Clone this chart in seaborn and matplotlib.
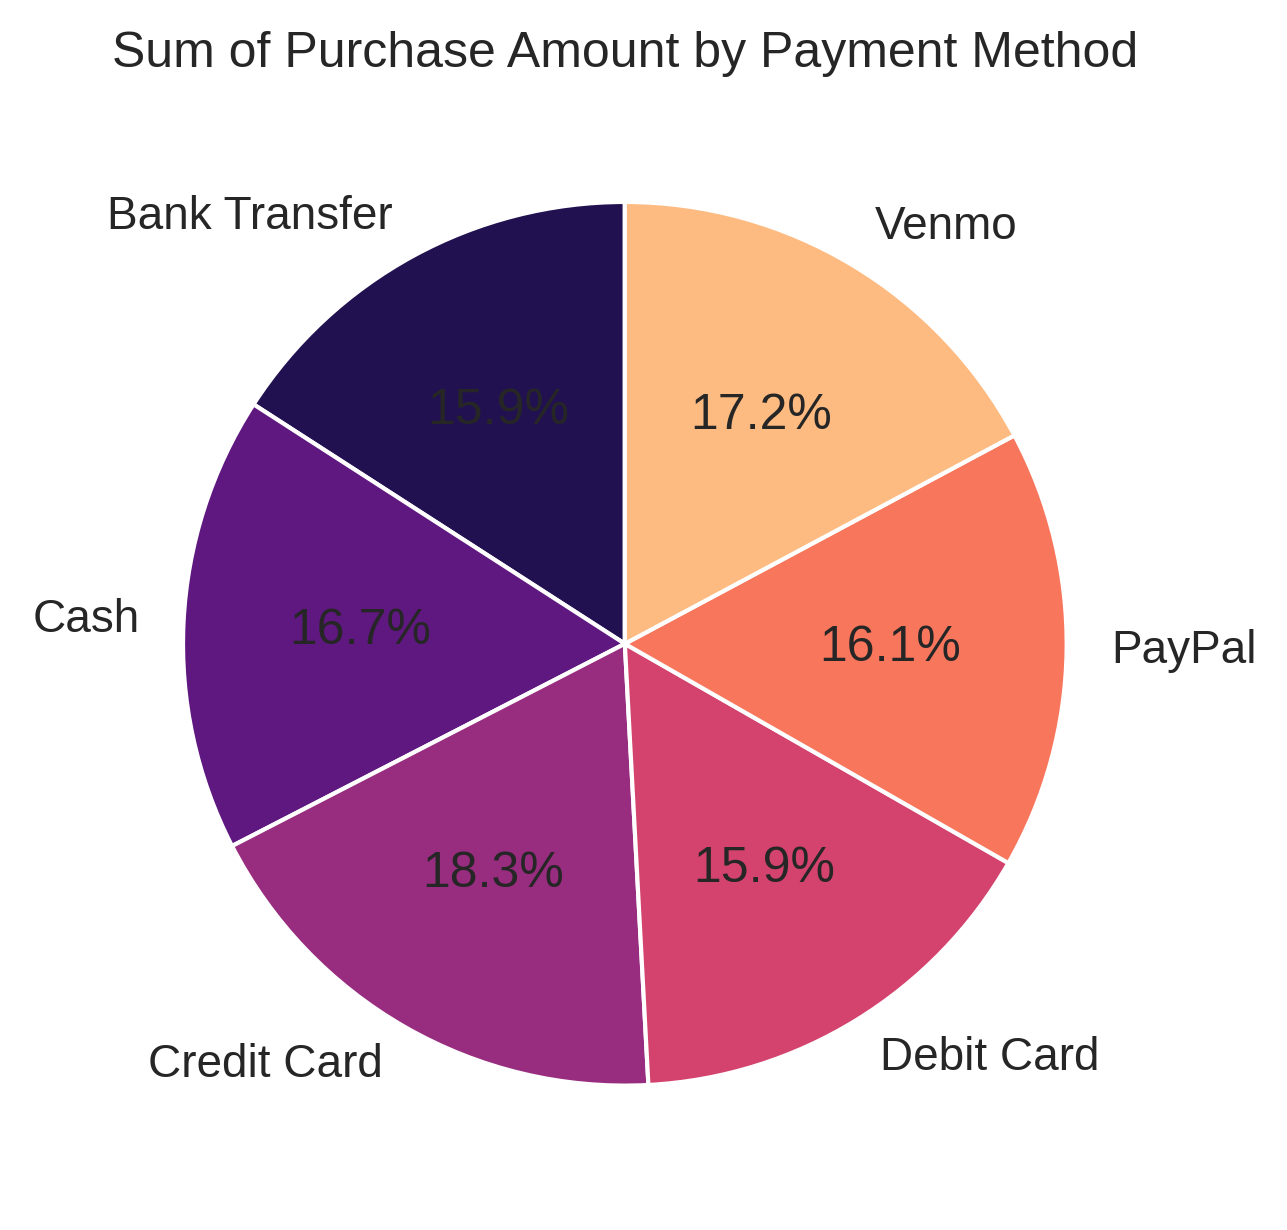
import matplotlib
matplotlib.use("Agg")
import matplotlib.pyplot as plt
import seaborn as sns

# ---------------------------------------------
# Data (share of total purchase amount, %)
# ---------------------------------------------
methods = ['Bank Transfer', 'Cash', 'Credit Card', 'Debit Card', 'PayPal', 'Venmo']
purchase_share = [15.9, 16.7, 18.3, 15.9, 16.1, 17.2]

# ---------------------------------------------
# Style
# ---------------------------------------------
sns.set_theme(style="whitegrid")
plt.rcParams['font.family'] = ['Liberation Sans', 'DejaVu Sans']

colors = sns.color_palette('magma', len(methods))

fig = plt.figure(figsize=(4.29, 4.1), dpi=300)
ax = fig.add_axes([0.056, 0.0276, 0.859, 0.898])
wedges, texts, autotexts = ax.pie(
    purchase_share,
    labels=methods,
    colors=colors,
    autopct='%1.1f%%',
    startangle=90,
    wedgeprops=dict(edgecolor='white', linewidth=1),
)
for t in texts:
    t.set_fontsize(11)
for t in autotexts:
    t.set_fontsize(12)
ax.set_title('Sum of Purchase Amount by Payment Method', fontsize=12)
ax.set_aspect('equal')

fig.savefig('out.png', dpi=300)
